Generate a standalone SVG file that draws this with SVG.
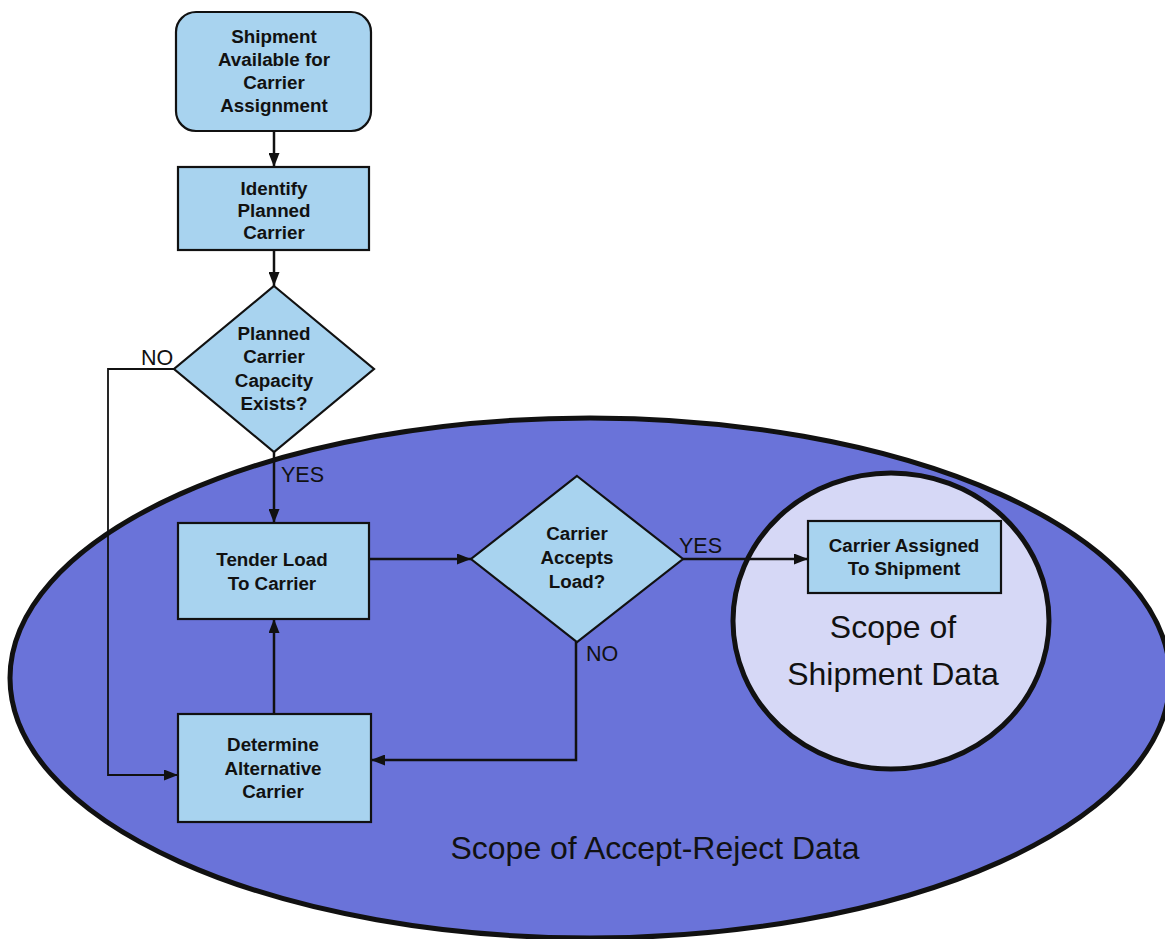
<svg xmlns="http://www.w3.org/2000/svg" width="1165" height="939" viewBox="0 0 1165 939">
  <style>
    .node { fill: #a8d3ef; stroke: #111; stroke-width: 2.2; }
    .lbl { font-family: "Liberation Sans", Arial, sans-serif; font-weight: bold; font-size: 18.8px; fill: #111; text-anchor: middle; }
    .tag { font-family: "Liberation Sans", Arial, sans-serif; font-size: 21.5px; fill: #111; }
    .scope { font-family: "Liberation Sans", Arial, sans-serif; font-size: 32px; fill: #111; text-anchor: middle; }
    .edge { fill: none; stroke: #111; stroke-width: 2.5; }
    .thin { stroke-width: 1.8; }
  </style>
  <defs>
    <marker id="arrow" viewBox="0 0 14 11" refX="14" refY="5.5" markerWidth="14" markerHeight="11" markerUnits="userSpaceOnUse" orient="auto">
      <path d="M0,0 L14,5.5 L0,11 Z" fill="#111"/>
    </marker>
  </defs>

  <rect width="1165" height="939" fill="#ffffff"/>

  <!-- scope regions -->
  <g id="scope-accept-reject">
    <ellipse cx="590" cy="678" rx="580" ry="260" fill="#6a73d9" stroke="#111" stroke-width="5"/>
    <text class="scope" x="655" y="859">Scope of Accept-Reject Data</text>
  </g>
  <g id="scope-shipment">
    <ellipse cx="891" cy="621" rx="158" ry="148" fill="#d6d8f6" stroke="#111" stroke-width="5"/>
    <text class="scope" x="893" y="638">Scope of</text>
    <text class="scope" x="893" y="685">Shipment Data</text>
  </g>

  <!-- connectors -->
  <g id="connectors">
    <line class="edge" x1="274" y1="131" x2="274" y2="167" marker-end="url(#arrow)"/>
    <line class="edge" x1="274" y1="250" x2="274" y2="286" marker-end="url(#arrow)"/>
    <line class="edge" x1="274" y1="452" x2="274" y2="523" marker-end="url(#arrow)"/>
    <polyline class="edge thin" points="174,369 108,369 108,775 178,775" marker-end="url(#arrow)"/>
    <line class="edge" x1="369" y1="559" x2="471" y2="559" marker-end="url(#arrow)"/>
    <line class="edge" x1="683" y1="559" x2="808" y2="559" marker-end="url(#arrow)"/>
    <polyline class="edge" points="576,642 576,760 371,760" marker-end="url(#arrow)"/>
    <line class="edge" x1="274" y1="714" x2="274" y2="619" marker-end="url(#arrow)"/>
    <text class="tag" x="141" y="365">NO</text>
    <text class="tag" x="281" y="482">YES</text>
    <text class="tag" x="679" y="553">YES</text>
    <text class="tag" x="586" y="661">NO</text>
  </g>

  <!-- flow nodes -->
  <g id="shipment-available">
    <rect class="node" x="176" y="12" width="195" height="119" rx="20" ry="20"/>
    <text class="lbl" x="274" y="43">Shipment</text>
    <text class="lbl" x="274" y="66">Available for</text>
    <text class="lbl" x="274" y="89">Carrier</text>
    <text class="lbl" x="274" y="112">Assignment</text>
  </g>
  <g id="identify-planned">
    <rect class="node" x="178" y="167" width="191" height="83"/>
    <text class="lbl" x="274" y="195">Identify</text>
    <text class="lbl" x="274" y="217">Planned</text>
    <text class="lbl" x="274" y="239">Carrier</text>
  </g>
  <g id="capacity-exists">
    <polygon class="node" points="274,286 374,369 274,452 174,369"/>
    <text class="lbl" x="274" y="340">Planned</text>
    <text class="lbl" x="274" y="363">Carrier</text>
    <text class="lbl" x="274" y="387">Capacity</text>
    <text class="lbl" x="274" y="410">Exists?</text>
  </g>
  <g id="tender-load">
    <rect class="node" x="178" y="523" width="191" height="96"/>
    <text class="lbl" x="272" y="566">Tender Load</text>
    <text class="lbl" x="272" y="590">To Carrier</text>
  </g>
  <g id="carrier-accepts">
    <polygon class="node" points="577,476 683,559 577,642 471,559"/>
    <text class="lbl" x="577" y="540">Carrier</text>
    <text class="lbl" x="577" y="564">Accepts</text>
    <text class="lbl" x="577" y="588">Load?</text>
  </g>
  <g id="determine-alternative">
    <rect class="node" x="178" y="714" width="193" height="108"/>
    <text class="lbl" x="273" y="751">Determine</text>
    <text class="lbl" x="273" y="775">Alternative</text>
    <text class="lbl" x="273" y="798">Carrier</text>
  </g>
  <g id="carrier-assigned">
    <rect class="node" x="808" y="521" width="193" height="72"/>
    <text class="lbl" x="904" y="552">Carrier Assigned</text>
    <text class="lbl" x="904" y="575">To Shipment</text>
  </g>
</svg>
